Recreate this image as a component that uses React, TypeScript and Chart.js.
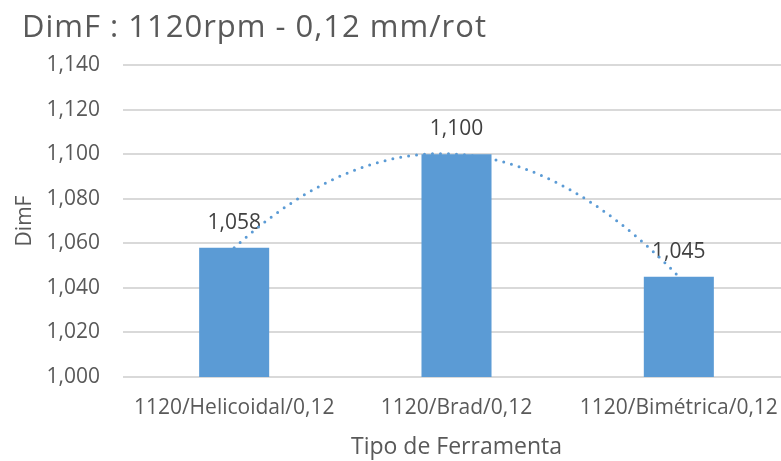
import React, { useEffect, useRef } from 'react';
import { Chart, registerables } from 'chart.js';

Chart.register(...registerables);

const chartTitle = 'DimF : 1120rpm - 0,12 mm/rot';
const xAxisTitle = 'Tipo de Ferramenta';
const yAxisTitle = 'DimF';
const categories = ['1120/Helicoidal/0,12', '1120/Brad/0,12', '1120/Bimétrica/0,12'];
const dimFValues = [1.058, 1.1, 1.045];
const yMin = 1.0;
const yMax = 1.14;
const yStep = 0.02;

const FONT = '"Open Sans", "DejaVu Sans", sans-serif';
const fmt = (v: number) => Number(v).toFixed(3).replace('.', ',');

// polynomial (order 2) least-squares trendline of the series, like the spreadsheet's trendline
function quadFit(ys: number[]) {
  const n = ys.length;
  const S = [0, 0, 0, 0, 0];
  const T = [0, 0, 0];
  for (let i = 0; i < n; i++) {
    for (let k = 0; k < 5; k++) S[k] += Math.pow(i, k);
    for (let k = 0; k < 3; k++) T[k] += ys[i] * Math.pow(i, k);
  }
  const M = [
    [S[0], S[1], S[2], T[0]],
    [S[1], S[2], S[3], T[1]],
    [S[2], S[3], S[4], T[2]],
  ];
  for (let c = 0; c < 3; c++) {
    let p = c;
    for (let r = c + 1; r < 3; r++) if (Math.abs(M[r][c]) > Math.abs(M[p][c])) p = r;
    [M[c], M[p]] = [M[p], M[c]];
    for (let r = 0; r < 3; r++) {
      if (r === c) continue;
      const f = M[r][c] / M[c][c];
      for (let k = c; k < 4; k++) M[r][k] -= f * M[c][k];
    }
  }
  const a0 = M[0][3] / M[0][0];
  const a1 = M[1][3] / M[1][1];
  const a2 = M[2][3] / M[2][2];
  return (x: number) => a0 + a1 * x + a2 * x * x;
}

const titlePlugin = {
  id: 'leftTitle',
  afterDraw(chart: any) {
    const ctx = chart.ctx;
    ctx.save();
    ctx.font = `31px ${FONT}`;
    try {
      (ctx as any).letterSpacing = '1px';
    } catch (e) {}
    ctx.fillStyle = '#595959';
    ctx.textAlign = 'left';
    ctx.textBaseline = 'alphabetic';
    ctx.fillText(chartTitle, 22, 37);
    ctx.restore();
  },
};

const labelsAndTrendPlugin = {
  id: 'labelsTrend',
  afterDatasetsDraw(chart: any) {
    const ctx = chart.ctx;
    const meta = chart.getDatasetMeta(0);
    const data = chart.data.datasets[0].data as number[];
    ctx.save();
    ctx.font = `21px ${FONT}`;
    ctx.fillStyle = '#404040';
    ctx.textAlign = 'center';
    ctx.textBaseline = 'middle';
    meta.data.forEach((bar: any, i: number) => {
      ctx.fillText(fmt(data[i]), bar.x, bar.y - 25);
    });
    // trendline
    const f = quadFit(data);
    const xs = chart.scales.x;
    const ys = chart.scales.y;
    ctx.beginPath();
    const steps = 200;
    for (let s = 0; s <= steps; s++) {
      const t = ((data.length - 1) * s) / steps;
      const px = xs.getPixelForValue(t);
      const py = ys.getPixelForValue(f(t));
      if (s === 0) ctx.moveTo(px, py);
      else ctx.lineTo(px, py);
    }
    ctx.strokeStyle = '#5B9BD5';
    ctx.lineWidth = 3;
    ctx.lineCap = 'round';
    ctx.setLineDash([0, 8]);
    ctx.stroke();
    ctx.restore();
  },
};

export default function App() {
  const ref = useRef<HTMLCanvasElement | null>(null);
  useEffect(() => {
    if (!ref.current) return;
    const chart = new Chart(ref.current, {
      type: 'bar',
      data: {
        labels: categories,
        datasets: [
          {
            label: yAxisTitle,
            data: dimFValues,
            backgroundColor: '#5B9BD5',
            barPercentage: 0.315,
            categoryPercentage: 1,
          },
        ],
      },
      options: {
        responsive: false,
        animation: false,
        layout: { padding: { top: 65, left: 0, right: 10, bottom: 0 } },
        plugins: {
          legend: { display: false },
          tooltip: { enabled: false },
          title: { display: false },
        },
        scales: {
          x: {
            grid: { display: false, drawTicks: false },
            border: { display: false },
            ticks: { color: '#595959', font: { family: FONT, size: 21 }, padding: 18, maxRotation: 0, autoSkip: false },
            title: {
              display: true,
              text: xAxisTitle,
              color: '#595959',
              font: { family: FONT, size: 23 },
              padding: { top: 0, bottom: 0 },
            },
            afterFit: (s: any) => {
              s.height = 84;
            },
          },
          y: {
            min: yMin,
            max: yMax,
            grid: { color: '#d9d9d9', lineWidth: 2, drawTicks: false },
            border: { display: false },
            ticks: {
              stepSize: yStep,
              color: '#595959',
              font: { family: FONT, size: 21 },
              padding: 23,
              callback: (v: any) => fmt(v),
            },
            title: {
              display: true,
              text: yAxisTitle,
              color: '#595959',
              font: { family: FONT, size: 21 },
              padding: { top: 12, bottom: 0 },
            },
            afterFit: (s: any) => {
              s.width = 123;
            },
          },
        },
      },
      plugins: [titlePlugin, labelsAndTrendPlugin],
    } as any);
    return () => chart.destroy();
  }, []);
  return (
    <div style={{ position: 'absolute', left: 0, top: 0, width: 781, height: 461, overflow: 'hidden', background: '#fff' }}>
      <canvas ref={ref} width={800} height={461} style={{ display: 'block' }} />
    </div>
  );
}
